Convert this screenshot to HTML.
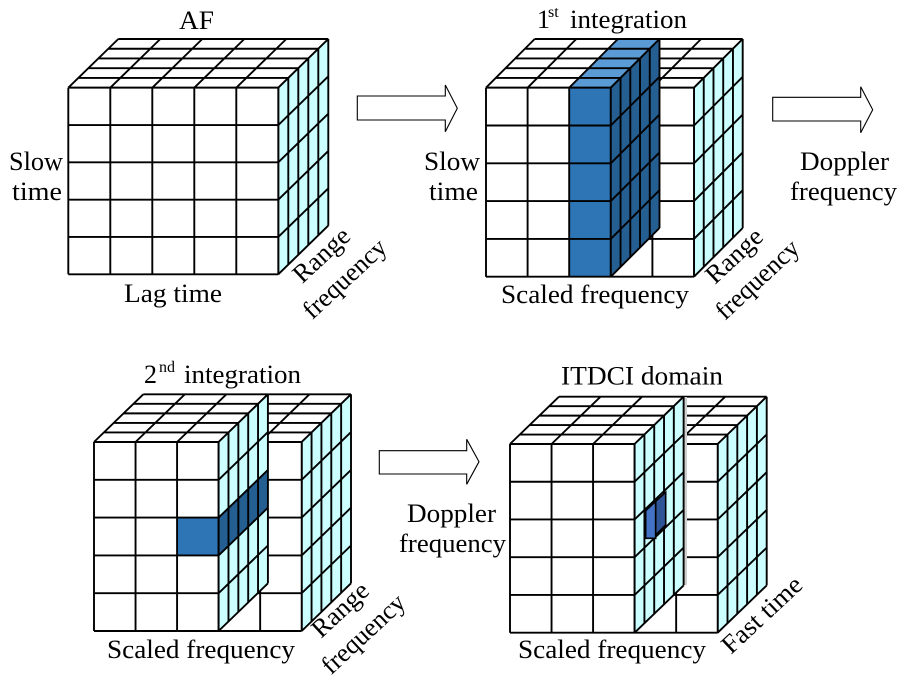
<!DOCTYPE html>
<html><head><meta charset="utf-8"><style>
html,body{margin:0;padding:0;background:#fff;}
svg{display:block;}
text{font-family:"Liberation Serif","Times New Roman",serif;fill:#000;}
.g{fill:none;stroke:#000;stroke-width:1.9;}
</style></head><body>
<svg width="900" height="680" viewBox="0 0 900 680" xmlns="http://www.w3.org/2000/svg">
<rect width="900" height="680" fill="#fff"/>

<!-- ===== Cube 1 ===== -->
<g transform="matrix(42,0,-10,9.74,118.3,39)">
 <rect x="0" y="0" width="5" height="5" fill="#fff"/>
 <path class="g" vector-effect="non-scaling-stroke" d="M0 0H5M0 1H5M0 2H5M0 3H5M0 4H5M0 5H5M0 0V5M1 0V5M2 0V5M3 0V5M4 0V5M5 0V5"/>
</g>
<g transform="matrix(10,-9.74,0,37.32,278.3,87.7)">
 <rect x="0" y="0" width="5" height="5" fill="#ccffff"/>
 <path class="g" vector-effect="non-scaling-stroke" d="M0 0H5M0 1H5M0 2H5M0 3H5M0 4H5M0 5H5M0 0V5M1 0V5M2 0V5M3 0V5M4 0V5M5 0V5"/>
</g>
<g transform="matrix(42,0,0,37.32,68.3,87.7)">
 <rect x="0" y="0" width="5" height="5" fill="#fff"/>
 <path class="g" vector-effect="non-scaling-stroke" d="M0 0H5M0 1H5M0 2H5M0 3H5M0 4H5M0 5H5M0 0V5M1 0V5M2 0V5M3 0V5M4 0V5M5 0V5"/>
</g>

<!-- ===== Cube 2 ===== -->
<g transform="matrix(41.6,0,-9.74,9.74,534.7,39)">
 <rect x="0" y="0" width="5" height="5" fill="#fff"/>
 <rect x="2" y="0" width="1" height="5" fill="#5b9bd5"/>
 <path class="g" vector-effect="non-scaling-stroke" d="M0 0H5M0 1H5M0 2H5M0 3H5M0 4H5M0 5H5M0 0V5M1 0V5M2 0V5M3 0V5M4 0V5M5 0V5"/>
</g>
<g transform="matrix(9.74,-9.74,0,37.8,694,87.7)">
 <rect x="0" y="0" width="5" height="5" fill="#ccffff"/>
 <path class="g" vector-effect="non-scaling-stroke" d="M0 0H5M0 1H5M0 2H5M0 3H5M0 4H5M0 5H5M0 0V5M1 0V5M2 0V5M3 0V5M4 0V5M5 0V5"/>
</g>
<g transform="matrix(41.6,0,0,37.8,486,87.7)">
 <rect x="0" y="0" width="5" height="5" fill="#fff"/>
 <rect x="2" y="0" width="1" height="5" fill="#2e75b6"/>
 <path class="g" vector-effect="non-scaling-stroke" d="M0 0H5M0 1H5M0 2H5M0 3H5M0 4H5M0 5H5M0 0V5M1 0V5M2 0V5M3 0V5M4 0V5M5 0V5"/>
</g>
<g transform="matrix(9.74,-9.74,0,37.8,610.8,87.7)">
 <rect x="0" y="0" width="5" height="5" fill="#255e91"/>
 <path class="g" vector-effect="non-scaling-stroke" d="M0 0H5M0 1H5M0 2H5M0 3H5M0 4H5M0 5H5M0 0V5M1 0V5M2 0V5M3 0V5M4 0V5M5 0V5"/>
</g>

<!-- ===== Cube 3 ===== -->
<g transform="matrix(41.54,0,-9.86,9.54,143.3,394.3)">
 <rect x="0" y="0" width="5" height="5" fill="#fff"/>
 <path class="g" vector-effect="non-scaling-stroke" d="M0 0H5M0 1H5M0 2H5M0 3H5M0 4H5M0 5H5M0 0V5M1 0V5M2 0V5M3 0V5M4 0V5M5 0V5"/>
</g>
<g transform="matrix(9.86,-9.54,0,37.8,301.7,442)">
 <rect x="0" y="0" width="5" height="5" fill="#ccffff"/>
 <path class="g" vector-effect="non-scaling-stroke" d="M0 0H5M0 1H5M0 2H5M0 3H5M0 4H5M0 5H5M0 0V5M1 0V5M2 0V5M3 0V5M4 0V5M5 0V5"/>
</g>
<g transform="matrix(41.54,0,0,37.8,94,442)">
 <rect x="0" y="0" width="5" height="5" fill="#fff"/>
 <rect x="2" y="2" width="1" height="1" fill="#2e75b6"/>
 <path class="g" vector-effect="non-scaling-stroke" d="M0 0H5M0 1H5M0 2H5M0 3H5M0 4H5M0 5H5M0 0V5M1 0V5M2 0V5M3 0V5M4 0V5M5 0V5"/>
</g>
<g transform="matrix(9.86,-9.54,0,37.8,218.62,442)">
 <rect x="0" y="0" width="5" height="5" fill="#ccffff"/>
 <rect x="0" y="2" width="5" height="1" fill="#255e91"/>
 <path class="g" vector-effect="non-scaling-stroke" d="M0 0H5M0 1H5M0 2H5M0 3H5M0 4H5M0 5H5M0 0V5M1 0V5M2 0V5M3 0V5M4 0V5M5 0V5"/>
</g>

<!-- ===== Cube 4 ===== -->
<g transform="matrix(41.54,0,-9.8,9.46,559,396.7)">
 <rect x="0" y="0" width="5" height="5" fill="#fff"/>
 <path class="g" vector-effect="non-scaling-stroke" d="M0 0H5M0 1H5M0 2H5M0 3H5M0 4H5M0 5H5M0 0V5M1 0V5M2 0V5M3 0V5M4 0V5M5 0V5"/>
</g>
<g transform="matrix(9.8,-9.46,0,37.74,717.7,444)">
 <rect x="0" y="0" width="5" height="5" fill="#ccffff"/>
 <path class="g" vector-effect="non-scaling-stroke" d="M0 0H5M0 1H5M0 2H5M0 3H5M0 4H5M0 5H5M0 0V5M1 0V5M2 0V5M3 0V5M4 0V5M5 0V5"/>
</g>
<g transform="matrix(41.54,0,0,37.74,510,444)">
 <rect x="0" y="0" width="5" height="5" fill="#fff"/>
 <path class="g" vector-effect="non-scaling-stroke" d="M0 0H5M0 1H5M0 2H5M0 3H5M0 4H5M0 5H5M0 0V5M1 0V5M2 0V5M3 0V5M4 0V5M5 0V5"/>
</g>
<rect x="684" y="397" width="3" height="188" fill="#cfcfcf"/>
<g transform="matrix(9.8,-9.46,0,37.74,634.62,444)">
 <rect x="0" y="0" width="5" height="5" fill="#ccffff"/>
 <path class="g" vector-effect="non-scaling-stroke" d="M0 0H5M0 1H5M0 2H5M0 3H5M0 4H5M0 5H5M0 0V5M1 0V5M2 0V5M3 0V5M4 0V5M5 0V5"/>
</g>
<polygon points="645.7,510.7 655.7,501.3 655.7,538.3 645.7,538.3" fill="#4472c4" stroke="#000" stroke-width="1.6"/>
<polygon points="655.7,501.3 665.7,492.3 665.7,525 655.7,535" fill="#2f5597" stroke="#000" stroke-width="1.6"/>

<!-- ===== Arrows ===== -->
<polygon points="357.3,96 445.3,96 445.3,85 457.3,108.3 445.3,131.7 445.3,120 357.3,120" fill="#fff" stroke="#000" stroke-width="1.1"/>
<polygon points="772.7,97.3 860.7,97.3 860.7,86.7 872.7,109.7 860.7,132.7 860.7,121 772.7,121" fill="#fff" stroke="#000" stroke-width="1.1"/>
<polygon points="379.3,450.7 466.7,450.7 466.7,439.3 479,461.7 466.7,484.3 466.7,474 379.3,474" fill="#fff" stroke="#000" stroke-width="1.1"/>

<!-- ===== Text ===== -->
<text x="179" y="29" font-size="26" textLength="35" lengthAdjust="spacingAndGlyphs">AF</text>
<text x="9" y="170" font-size="26" textLength="54" lengthAdjust="spacingAndGlyphs">Slow</text>
<text x="12" y="200" font-size="26" textLength="50" lengthAdjust="spacingAndGlyphs">time</text>
<text x="124" y="302" font-size="26" textLength="98" lengthAdjust="spacingAndGlyphs">Lag time</text>
<text transform="translate(302.3,284.3) rotate(-43)" font-size="26" textLength="68" lengthAdjust="spacingAndGlyphs">Range</text>
<text transform="translate(312.3,320.3) rotate(-43)" font-size="26" textLength="104" lengthAdjust="spacingAndGlyphs">frequency</text>

<text x="537" y="28" font-size="26">1</text>
<text x="548" y="17" font-size="16">st</text>
<text x="570" y="28" font-size="26" textLength="117" lengthAdjust="spacingAndGlyphs">integration</text>
<text x="424" y="170" font-size="26" textLength="56" lengthAdjust="spacingAndGlyphs">Slow</text>
<text x="429" y="200" font-size="26" textLength="49" lengthAdjust="spacingAndGlyphs">time</text>
<text x="501" y="303" font-size="26" textLength="188" lengthAdjust="spacingAndGlyphs">Scaled frequency</text>
<text transform="translate(715,285) rotate(-43)" font-size="26" textLength="68" lengthAdjust="spacingAndGlyphs">Range</text>
<text transform="translate(725,321) rotate(-43)" font-size="26" textLength="104" lengthAdjust="spacingAndGlyphs">frequency</text>
<text x="800" y="170" font-size="26" textLength="89" lengthAdjust="spacingAndGlyphs">Doppler</text>
<text x="790" y="200" font-size="26" textLength="107" lengthAdjust="spacingAndGlyphs">frequency</text>

<text x="144" y="383" font-size="26">2</text>
<text x="159" y="372" font-size="16">nd</text>
<text x="184" y="383" font-size="26" textLength="117" lengthAdjust="spacingAndGlyphs">integration</text>
<text x="107" y="658" font-size="26" textLength="188" lengthAdjust="spacingAndGlyphs">Scaled frequency</text>
<text transform="translate(321,639) rotate(-43)" font-size="26" textLength="68" lengthAdjust="spacingAndGlyphs">Range</text>
<text transform="translate(331,675.5) rotate(-43)" font-size="26" textLength="104" lengthAdjust="spacingAndGlyphs">frequency</text>
<text x="407" y="522" font-size="26" textLength="89" lengthAdjust="spacingAndGlyphs">Doppler</text>
<text x="399" y="552" font-size="26" textLength="107" lengthAdjust="spacingAndGlyphs">frequency</text>

<text x="561" y="384.5" font-size="26" textLength="162" lengthAdjust="spacingAndGlyphs">ITDCI domain</text>
<text x="518" y="658" font-size="26" textLength="188" lengthAdjust="spacingAndGlyphs">Scaled frequency</text>
<text transform="translate(731,655) rotate(-43)" font-size="26" textLength="100" lengthAdjust="spacingAndGlyphs">Fast time</text>
</svg>
</body></html>
